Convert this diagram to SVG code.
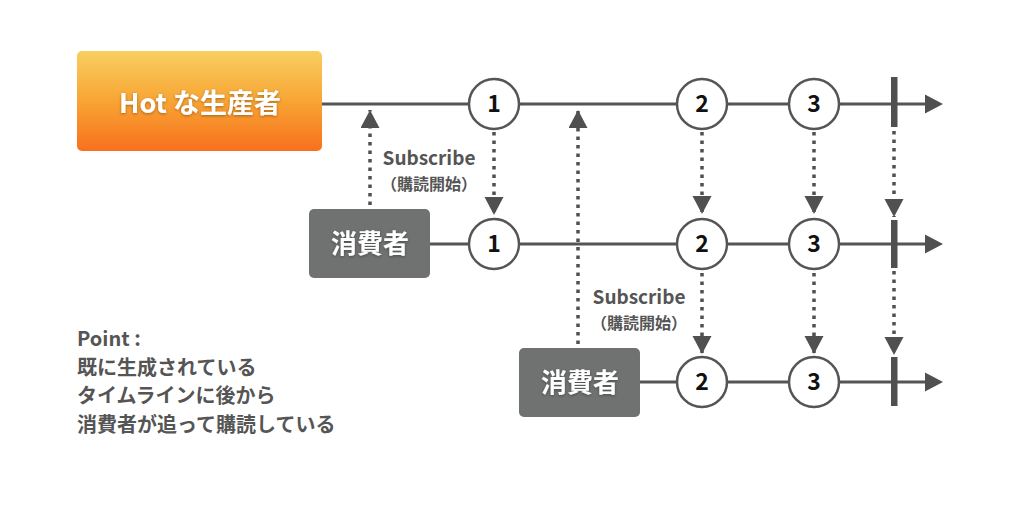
<svg xmlns="http://www.w3.org/2000/svg" width="1012" height="528" viewBox="0 0 1012 528">
<defs>
<linearGradient id="hot" x1="0" y1="0" x2="0" y2="1">
<stop offset="0" stop-color="#f8cf60"/>
<stop offset="0.5" stop-color="#f8a534"/>
<stop offset="1" stop-color="#f8701d"/>
</linearGradient>
<filter id="sh" x="-20%" y="-40%" width="140%" height="180%">
<feDropShadow dx="0" dy="1" stdDeviation="1.5" flood-color="#000" flood-opacity="0.35"/>
</filter>
<marker id="ah" markerUnits="userSpaceOnUse" markerWidth="20" markerHeight="20" refX="18" refY="9.5" orient="auto">
<path d="M0,0 L18,9.5 L0,19 z" fill="#505050"/>
</marker>
</defs>
<style>
.t{font-family:"Noto Sans CJK JP","Noto Sans",sans-serif;font-weight:bold}
.line{stroke:#555;stroke-width:3;fill:none}
.dot{stroke:#505050;stroke-width:3.5;stroke-dasharray:3.5 5;fill:none}
.c{fill:#fff;stroke:#555;stroke-width:2.5}
.num{font-size:23px;fill:#111;text-anchor:middle}
.box{fill:#6f7271}
.btxt{font-size:26px;fill:#fff;text-anchor:middle}
.bar{fill:#505050}
.sub{font-size:19px;fill:#555;text-anchor:middle}
.subj{font-size:16px;fill:#555;text-anchor:middle}
.pt{font-size:20px;fill:#555}
</style>
<rect width="1012" height="528" fill="#fff"/>
<g id="connectors">
<line class="line" x1="322" y1="104" x2="928" y2="104"/>
<line class="line" x1="430" y1="244" x2="928" y2="244"/>
<line class="line" x1="639" y1="382" x2="928" y2="382"/>
<path d="M925,94.5 L943,104 L925,113.5 z" fill="#505050"/>
<path d="M925,234.5 L943,244 L925,253.5 z" fill="#505050"/>
<path d="M925,372.5 L943,382 L925,391.5 z" fill="#505050"/>
<line class="dot" x1="370" y1="205" x2="370" y2="110" marker-end="url(#ah)"/>
<line class="dot" x1="578" y1="344" x2="578" y2="110" marker-end="url(#ah)"/>
<line class="dot" x1="494" y1="132" x2="494" y2="215" marker-end="url(#ah)"/>
<line class="dot" x1="702" y1="132" x2="702" y2="214" marker-end="url(#ah)"/>
<line class="dot" x1="814" y1="132" x2="814" y2="214" marker-end="url(#ah)"/>
<line class="dot" x1="894" y1="131" x2="894" y2="217" marker-end="url(#ah)"/>
<line class="dot" x1="702" y1="273" x2="702" y2="354" marker-end="url(#ah)"/>
<line class="dot" x1="814" y1="273" x2="814" y2="354" marker-end="url(#ah)"/>
<line class="dot" x1="894" y1="271" x2="894" y2="355" marker-end="url(#ah)"/>
</g>
<g id="hot-producer">
<rect x="77" y="51" width="245" height="100" rx="5" fill="url(#hot)"/>
<text class="t" x="200" y="113" font-size="27" fill="#fff" text-anchor="middle" filter="url(#sh)">Hot な生産者</text>
</g>
<g id="consumer1">
<rect class="box" x="309" y="209" width="121" height="69" rx="5"/>
<text class="t btxt" x="370" y="253" filter="url(#sh)">消費者</text>
</g>
<g id="consumer2">
<rect class="box" x="519" y="348" width="121" height="69" rx="5"/>
<text class="t btxt" x="580" y="392" filter="url(#sh)">消費者</text>
</g>
<g id="row1-nodes">
<circle class="c" cx="494" cy="104" r="25"/><text class="t num" x="494" y="112">1</text>
<circle class="c" cx="702" cy="104" r="25"/><text class="t num" x="702" y="112">2</text>
<circle class="c" cx="814" cy="104" r="25"/><text class="t num" x="814" y="112">3</text>
<rect class="bar" x="891" y="77" width="6.5" height="50"/>
</g>
<g id="row2-nodes">
<circle class="c" cx="494" cy="244" r="25"/><text class="t num" x="494" y="252">1</text>
<circle class="c" cx="702" cy="244" r="25"/><text class="t num" x="702" y="252">2</text>
<circle class="c" cx="814" cy="244" r="25"/><text class="t num" x="814" y="252">3</text>
<rect class="bar" x="891" y="220" width="6.5" height="48"/>
</g>
<g id="row3-nodes">
<circle class="c" cx="702" cy="382" r="25"/><text class="t num" x="702" y="390">2</text>
<circle class="c" cx="814" cy="382" r="25"/><text class="t num" x="814" y="390">3</text>
<rect class="bar" x="891" y="357" width="6.5" height="49"/>
</g>
<g id="subscribe1">
<text class="t sub" x="429" y="165">Subscribe</text>
<text class="t subj" x="429" y="190">（購読開始）</text>
</g>
<g id="subscribe2">
<text class="t sub" x="639" y="304">Subscribe</text>
<text class="t subj" x="639" y="329">（購読開始）</text>
</g>
<g id="point">
<text class="t pt" x="77" y="346">Point :</text>
<text class="t pt" x="77" y="375">既に生成されている</text>
<text class="t pt" x="77" y="403">タイムラインに後から</text>
<text class="t pt" x="77" y="432">消費者が追って購読している</text>
</g>
</svg>
